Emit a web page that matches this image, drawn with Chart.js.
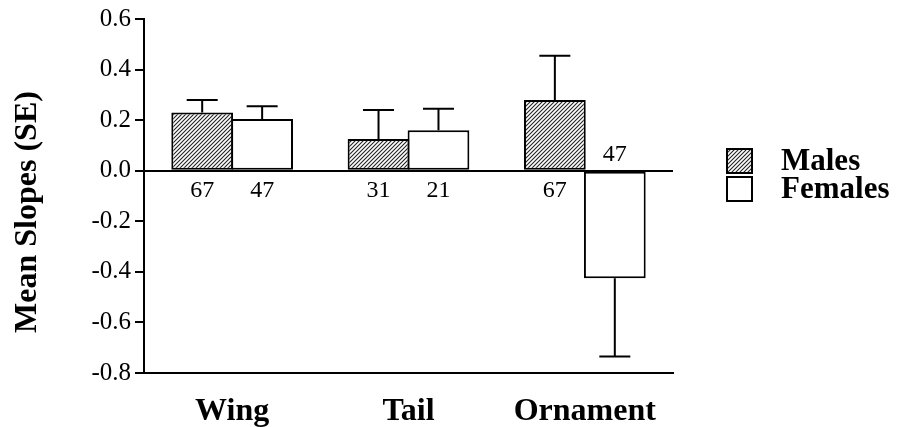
<!DOCTYPE html>
<html>
<head>
<meta charset="utf-8">
<script src="https://cdn.jsdelivr.net/npm/chart.js@4/dist/chart.umd.min.js"></script>
<style>
  html, body { margin: 0; padding: 0; background: #fff; }
  #wrap { width: 897px; height: 427px; }
</style>
</head>
<body>
<div id="wrap"><canvas id="slopeChart"></canvas></div>
<script>
// values
const categories = ['Wing', 'Tail', 'Ornament'];
const seriesNames = ['Males', 'Females'];
const malesMean = [0.23, 0.125, 0.28];
const femalesMean = [0.205, 0.16, -0.425];
const malesSE = [0.05, 0.115, 0.175];
const femalesSE = [0.05, 0.085, 0.31];
const malesN = [67, 31, 67];
const femalesN = [47, 21, 47];
const yTicks = [-0.8, -0.6, -0.4, -0.2, 0.0, 0.2, 0.4, 0.6];

const SERIF = '"Liberation Serif", "Times New Roman", serif';

// diagonal hatch for the male bars
function makeHatch() {
    const c = document.createElement('canvas');
    c.width = 4; c.height = 4;
    const g = c.getContext('2d');
    g.fillStyle = '#fff';
    g.fillRect(0, 0, 4, 4);
    g.strokeStyle = '#222';
    g.lineWidth = 1.1;
    g.beginPath();
    g.moveTo(0, 4); g.lineTo(4, 0);
    g.moveTo(-1, 1); g.lineTo(1, -1);
    g.moveTo(3, 5); g.lineTo(5, 3);
    g.stroke();
    return g.createPattern(c, 'repeat');
}

const ctx = document.getElementById('slopeChart').getContext('2d');
const hatch = makeHatch();

const extras = {
    id: 'extras',
    afterDatasetsDraw(chart) {
        const c = chart.ctx;
        const y = chart.scales.y;
        const errs = [malesSE, femalesSE];
        const counts = [malesN, femalesN];
        c.save();
        chart.data.datasets.forEach((ds, i) => {
            const meta = chart.getDatasetMeta(i);
            meta.data.forEach((bar, j) => {
                const v = ds.data[j];
                const end = v >= 0 ? v + errs[i][j] : v - errs[i][j];
                const y0 = y.getPixelForValue(v);
                const y1 = y.getPixelForValue(end);
                c.strokeStyle = '#000';
                c.lineWidth = 2;
                c.beginPath();
                c.moveTo(bar.x, y0); c.lineTo(bar.x, y1);
                c.moveTo(bar.x - 15.5, y1); c.lineTo(bar.x + 15.5, y1);
                c.stroke();
                // sample sizes
                c.fillStyle = '#000';
                c.font = '24px ' + SERIF;
                c.textAlign = 'center';
                c.textBaseline = 'middle';
                const zero = y.getPixelForValue(0);
                c.fillText(String(counts[i][j]), bar.x, v >= 0 ? zero + 20 : zero - 16);
            });
        });

        // y title
        c.save();
        c.translate(28, 212);
        c.rotate(-Math.PI / 2);
        c.font = 'bold 32px ' + SERIF;
        c.textAlign = 'center';
        c.textBaseline = 'middle';
        c.fillStyle = '#000';
        c.fillText('Mean Slopes (SE)', 0, 0);
        c.restore();

        // legend
        const fills = [hatch, '#fff'];
        const rows = [161, 189];
        seriesNames.forEach((name, i) => {
            c.fillStyle = fills[i];
            c.fillRect(727, rows[i] - 12, 25, 24);
            c.strokeStyle = '#000';
            c.lineWidth = 2;
            c.strokeRect(727, rows[i] - 12, 25, 24);
            c.fillStyle = '#000';
            c.font = 'bold 31px ' + SERIF;
            c.textAlign = 'left';
            c.textBaseline = 'middle';
            c.fillText(name, 781, rows[i] + 1);
        });
        c.restore();
    }
};

new Chart(ctx, {
    type: 'bar',
    data: {
        labels: categories,
        datasets: [{
            label: seriesNames[0],
            data: malesMean,
            backgroundColor: hatch,
            borderColor: '#000',
            borderWidth: 2,
            borderSkipped: false,
            categoryPercentage: 0.68,
            barPercentage: 1.03,
        }, {
            label: seriesNames[1],
            data: femalesMean,
            backgroundColor: '#fff',
            borderColor: '#000',
            borderWidth: 2,
            borderSkipped: false,
            categoryPercentage: 0.68,
            barPercentage: 1.03,
        }]
    },
    options: {
        responsive: true,
        maintainAspectRatio: false,
        animation: false,
        layout: { padding: { top: 18, right: 224, left: 0, bottom: 0 } },
        plugins: {
            legend: { display: false },
            tooltip: { enabled: false },
        },
        scales: {
            x: {
                grid: { display: false },
                border: { display: true, color: '#000', width: 2 },
                ticks: {
                    color: '#000',
                    padding: 12,
                    font: { family: SERIF, size: 32, weight: 'bold' },
                },
                afterFit: (s) => { s.height = 54; },
            },
            y: {
                min: yTicks[0],
                max: yTicks[yTicks.length - 1],
                afterBuildTicks: (s) => { s.ticks = yTicks.map(v => ({ value: v })); },
                ticks: {
                    color: '#000',
                    padding: 4,
                    font: { family: SERIF, size: 25 },
                    callback: (v) => Number(v).toFixed(1),
                },
                grid: {
                    drawOnChartArea: true,
                    drawTicks: true,
                    tickLength: 9,
                    tickColor: '#000',
                    lineWidth: 2,
                    color: (c) => (c.tick && c.tick.value === 0 ? '#000' : 'rgba(0,0,0,0)'),
                },
                border: { display: true, color: '#000', width: 2 },
                afterFit: (s) => { s.width = 144; },
            }
        }
    },
    plugins: [extras]
});
</script>
</body>
</html>
